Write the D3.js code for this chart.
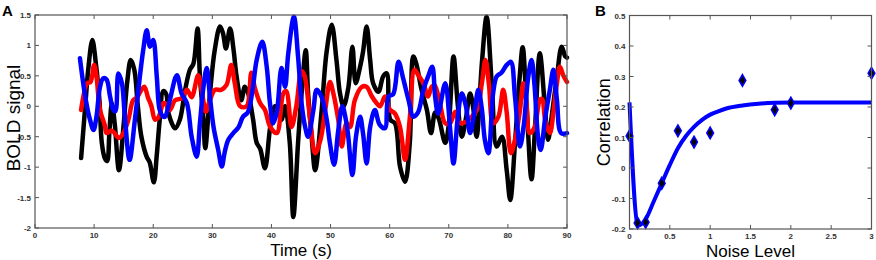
<!DOCTYPE html>
<html>
<head>
<meta charset="utf-8">
<script src="https://cdn.jsdelivr.net/npm/d3@7"></script>
<style>
  body { margin: 0; background: #fff; }
  svg { display: block; font-family: "Liberation Sans", Arial, sans-serif; }
  .tick-label { font-size: 8px; font-weight: bold; fill: #333; }
</style>
</head>
<body>
<div id="chart"></div>
<script>
// Panel A: BOLD traces, [time (s), signal]
const blackSeries = [[7.8,-0.85],[8.5,0.0],[9.0,0.6],[9.7,1.09],[10.3,0.7],[10.9,0.1],[11.3,-0.6],[11.8,-0.85],[12.2,-0.9],[12.6,-0.4],[13.0,0.05],[13.5,-0.3],[14.2,-1.05],[15.0,-0.3],[15.6,0.4],[16.2,0.76],[16.8,0.6],[17.4,0.0],[18.0,-0.5],[18.9,-0.83],[19.4,-0.92],[20.1,-1.25],[20.6,-0.8],[21.1,-0.22],[21.7,0.25],[22.2,0.2],[22.6,-0.12],[23.7,-0.36],[24.5,-0.22],[25.4,0.27],[26.2,0.6],[26.8,0.7],[27.5,1.28],[27.9,0.49],[28.5,-0.22],[28.8,-0.69],[29.6,0.21],[30.4,0.92],[31.3,1.31],[31.8,1.2],[32.3,0.95],[33.0,1.28],[33.6,0.92],[34.1,0.49],[34.9,0.1],[35.5,0.32],[36.1,0.2],[36.9,-0.22],[37.5,-0.6],[38.1,-0.7],[38.9,-1.02],[39.8,-0.34],[40.6,0.0],[41.1,-0.05],[41.7,-0.22],[42.3,0.0],[43.1,-0.6],[43.7,-1.82],[44.5,-0.6],[45.1,0.21],[45.8,0.92],[46.2,0.21],[46.8,-0.5],[47.4,-1.05],[48.5,-0.06],[49.3,0.87],[50.2,1.34],[51.0,0.76],[51.6,0.21],[52.2,0.0],[53.0,0.3],[53.7,0.98],[54.25,0.38],[55.0,0.65],[55.5,0.9],[56.1,1.31],[56.7,0.76],[57.2,0.38],[58.1,0.24],[58.9,0.49],[59.5,0.54],[60.1,-0.22],[60.9,-0.28],[61.75,-0.99],[62.6,-1.24],[63.4,-0.61],[64.0,0.82],[64.5,0.7],[65.4,0.27],[66.3,-0.06],[67.0,-0.44],[67.7,-0.1],[68.3,-0.2],[69.4,-0.6],[70.0,-0.3],[70.8,0.82],[71.5,0.05],[72.2,-0.5],[72.9,-0.2],[73.6,0.21],[74.1,0.0],[74.7,-0.5],[75.6,0.71],[76.4,1.47],[77.3,0.32],[78.1,-0.66],[79.0,-0.5],[79.8,-1.05],[80.4,-1.54],[81.2,-0.61],[82.0,0.49],[82.5,0.97],[83.2,-0.06],[84.0,-1.2],[84.6,-0.34],[85.4,0.87],[86.3,-0.06],[86.8,-0.55],[87.5,-0.1],[88.3,0.49],[89.1,0.98],[89.7,0.82],[90,0.8]];

const redSeries = [[7.8,-0.06],[8.85,0.38],[9.4,0.4],[10.0,0.68],[10.4,0.49],[11.0,-0.06],[11.8,-0.31],[12.1,-0.44],[13.0,-0.4],[14.2,-0.52],[14.9,-0.45],[15.8,-0.22],[16.6,0.1],[17.3,0.15],[18.0,0.27],[18.5,0.32],[19.1,0.15],[19.7,0.0],[20.3,-0.22],[20.9,-0.18],[21.7,0.05],[22.0,0.05],[22.8,-0.06],[23.7,0.1],[24.8,0.13],[25.7,0.27],[26.5,0.15],[27.6,0.51],[28.3,0.2],[28.9,-0.09],[29.6,0.1],[30.45,0.27],[31.5,0.27],[32.4,0.35],[33.2,0.68],[33.8,0.38],[34.7,0.0],[35.8,0.0],[36.6,0.55],[37.2,0.3],[38.1,0.05],[38.9,-0.06],[39.8,-0.34],[40.9,-0.44],[42.0,0.21],[42.5,0.25],[43.4,-0.34],[44.2,0.0],[45.1,0.58],[45.6,0.5],[46.5,-0.17],[47.4,-0.77],[48.3,-0.55],[49.1,-0.06],[49.9,0.4],[50.5,0.2],[51.3,-0.22],[51.9,-0.66],[52.7,-0.28],[53.3,-0.34],[54.1,0.1],[55.3,0.32],[56.1,0.32],[57.0,0.16],[57.8,0.05],[58.4,0.0],[59.2,0.16],[60.0,-0.05],[60.9,-0.12],[61.75,-0.34],[62.6,-0.88],[63.4,-0.2],[64.2,0.6],[64.9,0.5],[65.7,0.38],[66.5,0.16],[67.1,0.32],[67.6,0.35],[68.5,0.05],[69.4,-0.28],[70.2,-0.28],[71.1,-0.09],[71.9,-0.28],[73.0,-0.25],[73.9,-0.17],[74.8,-0.05],[75.6,0.38],[76.2,0.76],[76.8,0.35],[77.5,-0.28],[78.4,-0.17],[79.2,0.27],[79.8,-0.1],[80.5,-0.77],[81.2,-0.55],[82.05,-0.06],[82.6,0.38],[83.1,0.1],[83.7,-0.44],[84.5,-0.35],[85.4,0.1],[85.8,0.12],[86.3,-0.22],[87.1,-0.44],[87.7,-0.1],[88.3,0.38],[88.8,0.65],[89.4,0.5],[90,0.4]];

const blueSeries = [[7.6,0.79],[8.5,0.16],[9.3,-0.22],[9.9,-0.39],[10.4,-0.17],[11.0,0.32],[11.55,0.46],[12.1,0.44],[12.7,0.16],[13.25,-0.06],[13.6,-0.08],[14.1,0.54],[14.7,0.38],[15.2,-0.17],[16.0,-0.88],[16.9,-0.22],[17.8,0.54],[18.3,0.92],[18.9,1.25],[19.45,0.98],[20.0,1.09],[20.6,0.49],[21.1,-0.06],[21.7,-0.17],[22.0,-0.17],[22.8,0.1],[24.0,0.51],[24.8,0.21],[25.7,0.05],[26.5,-0.5],[27.35,-0.83],[27.9,-0.28],[28.5,0.32],[29.05,0.63],[29.6,0.15],[30.2,-0.34],[31.0,-0.72],[31.6,-0.99],[32.1,-0.75],[32.7,-0.55],[33.55,-0.44],[34.4,-0.35],[35.2,-0.17],[36.0,-0.1],[36.8,0.27],[37.5,0.76],[38.45,1.06],[39.2,0.65],[39.75,0.05],[40.3,-0.28],[40.9,-0.1],[41.7,0.63],[42.3,0.32],[42.85,0.87],[43.8,1.47],[44.5,0.82],[45.1,0.05],[45.7,-0.34],[46.2,-0.5],[47.1,-0.06],[47.65,0.27],[48.5,0.15],[49.35,-0.22],[49.9,-0.61],[50.6,-0.96],[51.3,-0.4],[52.0,0.0],[52.7,-0.28],[53.0,-0.5],[53.7,-1.13],[54.3,-0.5],[55.0,-0.17],[55.5,-0.45],[56.1,-0.94],[56.7,-0.34],[57.5,-0.06],[58.3,-0.3],[59.2,-0.36],[59.8,0.16],[60.6,0.2],[61.5,0.73],[62.3,0.45],[63.2,0.1],[64.0,-0.17],[64.8,-0.1],[65.7,0.27],[66.5,0.49],[67.2,0.65],[67.7,0.15],[68.2,-0.12],[69.4,0.38],[70.2,-0.34],[70.8,-0.94],[71.5,-0.2],[72.2,0.21],[72.9,0.0],[73.6,-0.44],[74.4,-0.05],[75.0,0.27],[75.6,-0.05],[76.1,-0.55],[76.7,-0.77],[77.5,0.21],[78.1,0.49],[78.9,0.55],[79.8,0.68],[80.5,0.73],[81.2,0.16],[82.05,-0.66],[82.7,-0.3],[83.4,0.45],[84.0,0.76],[84.5,0.35],[85.1,-0.5],[85.55,-0.72],[86.3,-0.2],[87.1,0.27],[87.7,0.6],[88.3,0.1],[89.0,-0.44],[90,-0.44]];

const timeTicks = [0, 10, 20, 30, 40, 50, 60, 70, 80, 90];
const boldTicks = [-2, -1.5, -1, -0.5, 0, 0.5, 1, 1.5];

// Panel B: correlation vs noise level
const noiseLevels = [0, 0.1, 0.2, 0.4, 0.6, 0.8, 1.0, 1.4, 1.8, 2.0, 3.0];
const correlations = [0.105, -0.18, -0.178, -0.05, 0.122, 0.085, 0.115, 0.287, 0.191, 0.213, 0.311];
const fitNoise = [0, 0.1, 0.12, 0.2, 0.3, 0.4, 0.5, 0.6, 0.7, 0.8, 0.9, 1.0, 1.1, 1.2, 1.4, 1.6, 1.8, 2.0, 2.5, 3.0];
const fitCorr = [0.215, -0.185, -0.188, -0.168, -0.11, -0.05, 0.01, 0.065, 0.105, 0.135, 0.158, 0.175, 0.186, 0.195, 0.205, 0.211, 0.214, 0.215, 0.215, 0.215];
const noiseTicks = [0, 0.5, 1, 1.5, 2, 2.5, 3];
const corrTicks = [-0.2, -0.1, 0, 0.1, 0.2, 0.3, 0.4, 0.5];

const W = 876, H = 260;
const svg = d3.select('#chart').append('svg')
    .attr('width', W)
    .attr('height', H);

function frame(g, x, y, xTicks, yTicks, xFmt, yFmt) {
    const [x0, x1] = x.range();
    const [y0, y1] = y.range();
    const tl = 4;
    const ticks = g.append('g').attr('stroke', '#555').attr('stroke-width', 1);
    xTicks.forEach(t => {
        ticks.append('line').attr('x1', x(t)).attr('x2', x(t)).attr('y1', y0).attr('y2', y0 - tl);
        ticks.append('line').attr('x1', x(t)).attr('x2', x(t)).attr('y1', y1).attr('y2', y1 + tl);
    });
    yTicks.forEach(t => {
        ticks.append('line').attr('x1', x0).attr('x2', x0 + tl).attr('y1', y(t)).attr('y2', y(t));
        ticks.append('line').attr('x1', x1).attr('x2', x1 - tl).attr('y1', y(t)).attr('y2', y(t));
    });
    g.append('rect')
        .attr('x', x0).attr('y', y1)
        .attr('width', x1 - x0).attr('height', y0 - y1)
        .attr('fill', 'none').attr('stroke', '#555').attr('stroke-width', 1.2);
    g.selectAll('.xl').data(xTicks).enter().append('text')
        .attr('class', 'tick-label')
        .attr('x', d => x(d)).attr('y', y0 + 10)
        .attr('text-anchor', 'middle')
        .text(xFmt);
    g.selectAll('.yl').data(yTicks).enter().append('text')
        .attr('class', 'tick-label')
        .attr('x', x0 - 4).attr('y', d => y(d) + 3)
        .attr('text-anchor', 'end')
        .text(yFmt);
}

// ---- Panel A
const xA = d3.scaleLinear().domain([0, 90]).range([35, 567]);
const yA = d3.scaleLinear().domain([-2, 1.5]).range([228, 15]);
const gA = svg.append('g');

const traceLine = d3.line()
    .x(d => xA(d[0]))
    .y(d => yA(d[1]))
    .curve(d3.curveCatmullRom.alpha(0.5));

[[blackSeries, '#000'], [redSeries, '#ff0000'], [blueSeries, '#0000ff']].forEach(([s, c]) => {
    gA.append('path')
        .datum(s)
        .attr('d', traceLine)
        .attr('fill', 'none')
        .attr('stroke', c)
        .attr('stroke-width', 4.5)
        .attr('stroke-linejoin', 'round')
        .attr('stroke-linecap', 'round');
});

frame(gA, xA, yA, timeTicks, boldTicks, d => d, d => d);

gA.append('text')
    .attr('transform', 'translate(20,118) rotate(-90)')
    .attr('text-anchor', 'middle')
    .style('font-size', '19px')
    .text('BOLD signal');
gA.append('text')
    .attr('x', (35 + 567) / 2).attr('y', 256)
    .attr('text-anchor', 'middle')
    .style('font-size', '17px')
    .text('Time (s)');
gA.append('text')
    .attr('x', 2).attr('y', 16)
    .style('font-size', '15px').style('font-weight', 'bold')
    .text('A');

// ---- Panel B
const xB = d3.scaleLinear().domain([0, 3]).range([629.5, 871.5]);
const yB = d3.scaleLinear().domain([-0.2, 0.5]).range([229, 15.5]);
const gB = svg.append('g');

const fitLine = d3.line()
    .x((d, i) => xB(fitNoise[i]))
    .y(d => yB(d))
    .curve(d3.curveMonotoneX);

gB.append('path')
    .datum(fitCorr)
    .attr('d', fitLine)
    .attr('fill', 'none')
    .attr('stroke', '#0000ff')
    .attr('stroke-width', 4)
    .attr('stroke-linejoin', 'round');

const diamond = d3.symbol().type(d3.symbolDiamond).size(40);
gB.selectAll('.pt').data(noiseLevels).enter().append('path')
    .attr('transform', (d, i) => `translate(${xB(d)},${yB(correlations[i])})`)
    .attr('d', diamond)
    .attr('fill', '#000')
    .attr('stroke', '#0000ff')
    .attr('stroke-width', 1.5);

frame(gB, xB, yB, noiseTicks, corrTicks, d => d, d => d);

gB.append('text')
    .attr('transform', `translate(610,${(15.5 + 229) / 2}) rotate(-90)`)
    .attr('text-anchor', 'middle')
    .style('font-size', '18px')
    .text('Correlation');
gB.append('text')
    .attr('x', (629.5 + 871.5) / 2).attr('y', 257)
    .attr('text-anchor', 'middle')
    .style('font-size', '17px')
    .text('Noise Level');
gB.append('text')
    .attr('x', 595).attr('y', 16)
    .style('font-size', '15px').style('font-weight', 'bold')
    .text('B');
</script>
</body>
</html>
